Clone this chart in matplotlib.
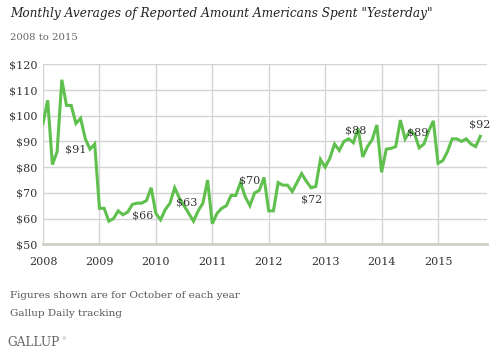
import numpy as np
import matplotlib
matplotlib.use('Agg')
import matplotlib.pyplot as plt

# monthly averages, Jan 2008 .. Oct 2015
y2008 = [97, 106, 81, 86, 114, 104, 104, 97, 99, 91, 87, 89]
y2009 = [64, 64, 59, 60, 63, 61.5, 62.5, 65.5, 66, 66, 67, 72]
y2010 = [62, 59.5, 63.5, 66, 72, 68, 65, 62, 59, 63, 66, 75]
y2011 = [58, 62, 64, 65, 69, 69, 74, 68.5, 65, 70, 71, 76]
y2012 = [63, 63, 74, 73, 73, 70.5, 74, 77.5, 74.5, 72, 72.5, 83]
y2013 = [80, 83.5, 89, 86.5, 90, 91, 89.5, 95, 84, 88, 90.7, 96.4]
y2014 = [78, 87, 87.3, 88, 98.3, 91, 94, 93, 87.5, 89, 94, 98]
y2015 = [81.5, 82.5, 86, 91, 91, 90, 91, 89, 88, 92]

years = [2008, 2009, 2010, 2011, 2012, 2013, 2014, 2015]
yticks = [50, 60, 70, 80, 90, 100, 110, 120]

# label offsets (pixels) for the October callouts
label_offsets = [(-10, -11), (1, -12), (-11, 8), (-5, 12), (1, -12), (-12, 16), (-6, 12), (-1, 12)]

values = y2008 + y2009 + y2010 + y2011 + y2012 + y2013 + y2014 + y2015
t = 2008 + np.arange(len(values)) / 12.0

serif = 'DejaVu Serif'
fig = plt.figure(figsize=(4.94, 3.54), dpi=100)
ax = fig.add_axes([43/494, 1-244.3/354, 444/494, 180/354])

ax.plot(t, values, color='#60c04e', lw=2.2, solid_joinstyle='miter', zorder=3)

for i, yr in enumerate(years):
    idx = (yr - 2008) * 12 + 9
    v = values[idx]
    ax.annotate(f'${round(v)}', xy=(t[idx], v), xytext=label_offsets[i], textcoords='offset pixels',
                ha='center', va='center', fontsize=8, family=serif, color='#333333', zorder=4)

ax.set_xlim(2008, 2015.868)
ax.set_ylim(50, 120)
ax.set_xticks(years)
ax.set_xticklabels([str(y) for y in years])
ax.set_yticks(yticks)
ax.set_yticklabels([f'${v}' for v in yticks])
ax.grid(True, color='#d4d4d4', lw=1)
ax.set_axisbelow(True)
for s in ['top', 'right', 'left']:
    ax.spines[s].set_visible(False)
ax.spines['bottom'].set_color('#cfcfc8')
ax.spines['bottom'].set_linewidth(2)
ax.tick_params(length=0, labelsize=8, labelcolor='#333333', pad=4)
ax.tick_params(axis='x', pad=9)
for lab in ax.get_xticklabels() + ax.get_yticklabels():
    lab.set_family(serif)

fig.text(10/494, 1-14/354, 'Monthly Averages of Reported Amount Americans Spent "Yesterday"',
         fontsize=8.7, style='italic', family=serif, color='#222222', va='center')
fig.text(10/494, 1-37/354, '2008 to 2015', fontsize=7.3, family=serif, color='#666666', va='center')
fig.text(10/494, 1-295/354, 'Figures shown are for October of each year', fontsize=7.5, family=serif,
         color='#555555', va='center')
fig.text(10/494, 1-313/354, 'Gallup Daily tracking', fontsize=7.5, family=serif, color='#555555', va='center')
fig.text(7/494, 1-343/354, 'GALLUP', fontsize=8.7, family=serif, color='#666666', va='center')
fig.text(61/494, 1-339/354, '®', fontsize=3, family=serif, color='#666666', va='center')

fig.savefig('out.png', dpi=100)
